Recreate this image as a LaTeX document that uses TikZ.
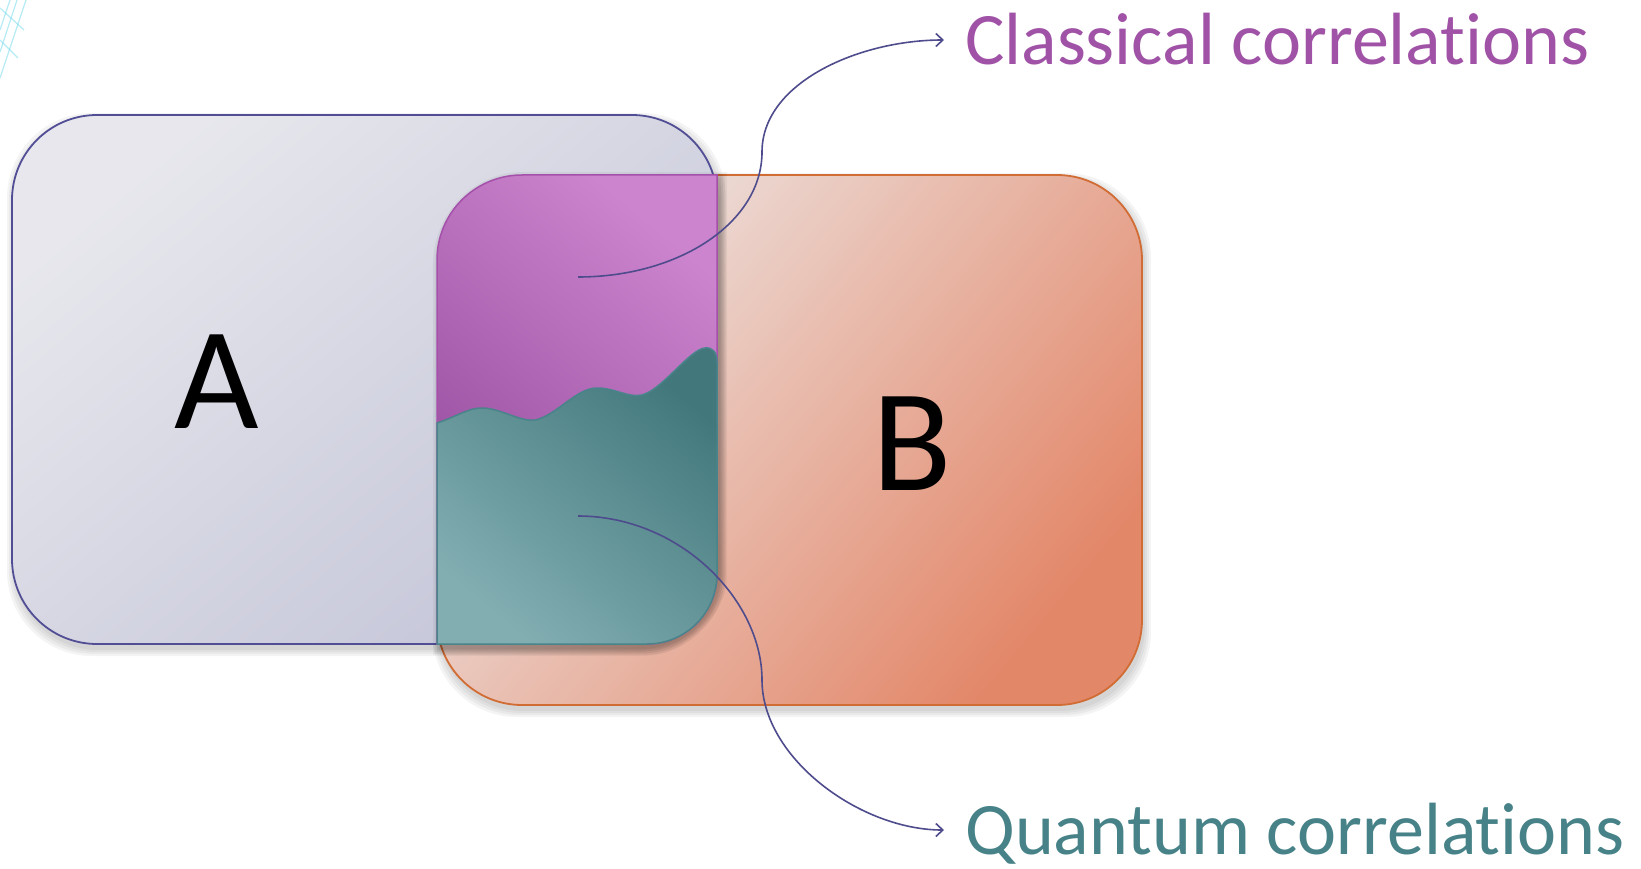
\documentclass[tikz,border=0pt]{standalone}
\usepackage{fontspec}
\setmainfont{Carlito}[Ligatures={NoCommon}]
\usetikzlibrary{arrows.meta}
\definecolor{Aborder}{RGB}{82,78,150}
\definecolor{Alight}{RGB}{231,231,237}
\definecolor{Adark}{RGB}{196,197,216}
\definecolor{Bborder}{RGB}{208,108,52}
\definecolor{Blight}{RGB}{237,230,228}
\definecolor{Bmid}{RGB}{232,178,160}
\definecolor{Bdark}{RGB}{227,135,105}
\definecolor{Plight}{RGB}{204,132,206}
\definecolor{Pdark}{RGB}{146,72,154}
\definecolor{Pborder}{RGB}{165,80,170}
\definecolor{Tlight}{RGB}{130,174,178}
\definecolor{Tdark}{RGB}{66,120,124}
\definecolor{Tborder}{RGB}{72,132,138}
\definecolor{conn}{RGB}{78,76,140}
\definecolor{ctext}{RGB}{160,82,166}
\definecolor{qtext}{RGB}{70,130,135}
\definecolor{deco}{RGB}{120,218,236}
\tikzset{
  boxA/.style={top color=Alight, bottom color=Adark, shading angle=40, draw=Aborder, line width=1.8pt, rounded corners=85pt},
  boxB/.style={top color=Blight, middle color=Bmid, bottom color=Bdark, shading angle=50, draw=Bborder, line width=1.8pt, rounded corners=85pt},
  shadowstyle/.style={fill=black, opacity=0.045},
  connector/.style={draw=conn, line width=1.6pt, -{Straight Barb[length=7pt,width=13pt]}},
  bigletter/.style={font=\fontsize{146}{170}\selectfont, text=black, inner sep=0pt, anchor=base},
  label/.style={font=\fontsize{74}{90}\selectfont, inner sep=0pt, anchor=base west},
}
\begin{document}
\begin{tikzpicture}[x=1pt,y=-1pt]
\useasboundingbox (0,0) rectangle (1641,869);
% faint background decoration
\begin{scope}[draw=deco, line width=1.2pt, opacity=0.55]
  \draw (0,78) -- (26,0);
  \draw (0,52) -- (17,0);
  \draw (0,30) -- (10,0);
  \draw (0,8) -- (24,30);
  \draw (0,40) -- (18,58);
\end{scope}
% shadows of A and B
\foreach \k in {1,3,5,7} {
  \fill[shadowstyle, rounded corners=85pt] (437-\k+2,175-\k+5) rectangle (1142+\k+2,705+\k+5);
}
% box B
\path[boxB] (437,175) rectangle (1142,705);
\foreach \k in {1,3,5,7} {
  \fill[shadowstyle, rounded corners=85pt] (12-\k+2,115-\k+5) rectangle (717+\k+2,644+\k+5);
}
% box A
\path[boxA] (12,115) rectangle (717,644);
% overlap shadow
\foreach \k in {1,3,5,7} {
  \fill[shadowstyle] (437-\k+3,644+\k+4) -- (437-\k+3,260+4) .. controls (437-\k+3,213) and (475,175-\k+4) .. (522,175-\k+4) -- (717+\k+3,175-\k+4) -- (717+\k+3,574+4) .. controls (717+\k+3,613) and (686,644+\k+4) .. (647,644+\k+4) -- cycle;
}
% overlap: classical (purple)
\path[top color=Plight, bottom color=Pdark, shading angle=-40, draw=Pborder, line width=1.5pt]
  (437,644) -- (437,260) .. controls (437,213) and (475,175) .. (522,175) -- (717,175) -- (717,574)
  .. controls (717,612.7) and (685.7,644) .. (647,644) -- cycle;
% overlap: quantum (teal)
\path[top color=Tdark, bottom color=Tlight, shading angle=-40, draw=Tborder, line width=1.5pt]
  (437,644) -- (437,423)
  .. controls (458,416) and (468,408) .. (482,408)
  .. controls (500,408) and (520,422) .. (535,420)
  .. controls (556,416) and (576,388) .. (597,388)
  .. controls (615,388) and (628,398) .. (642,395)
  .. controls (662,390) and (690,349) .. (705,348)
  .. controls (712,347) and (717,352) .. (717,362)
  -- (717,574) .. controls (717,612.7) and (685.7,644) .. (647,644) -- cycle;
% letters
\node[bigletter] (la) at (217,428) {A};
\node[bigletter] (lb) at (912,490) {B};
% labels
\node[label, text=ctext] (ctxt) at (965,65) {Classical correlations};
\node[label, text=qtext] (qtxt) at (965,854) {Quantum correlations};
% connectors
\coordinate (cs) at (578,277);
\coordinate (cm) at (762,152);
\coordinate (ce) at (944,40);
\coordinate (qs) at (578,516);
\coordinate (qm) at (762,680);
\coordinate (qe) at (944,830);
\draw[connector] (cs) .. controls (680,277) and (762,222) .. (cm)
  .. controls (762,82) and (860,40) .. (ce);
\draw[connector] (qs) .. controls (680,516) and (762,600) .. (qm)
  .. controls (762,758) and (860,830) .. (qe);
\end{tikzpicture}
\end{document}
